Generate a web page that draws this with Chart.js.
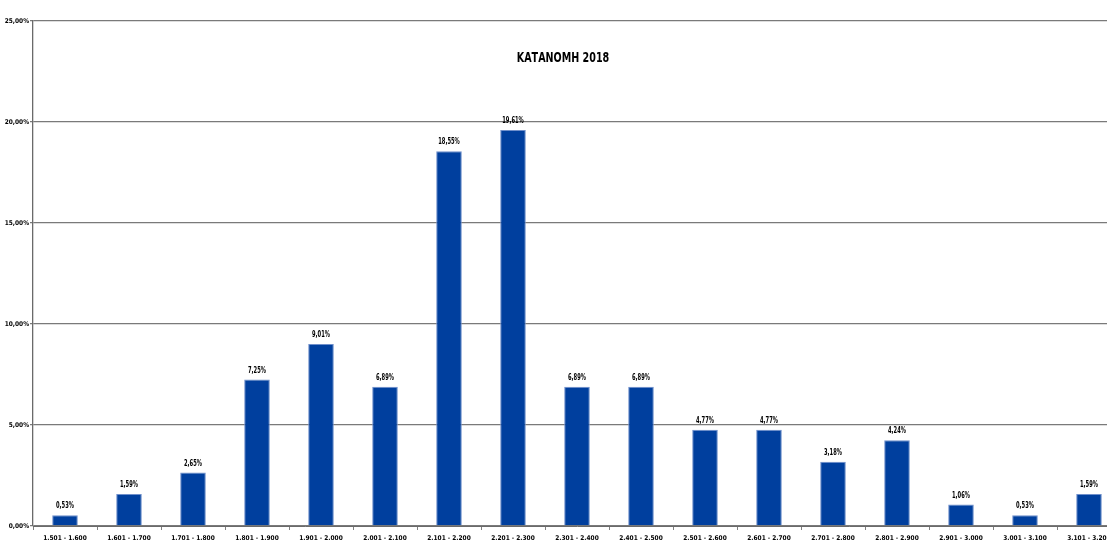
<!DOCTYPE html>
<html>
<head>
<meta charset="utf-8">
<script src="https://cdn.jsdelivr.net/npm/chart.js@4/dist/chart.umd.min.js"></script>
<style>
  html, body { margin: 0; padding: 0; background: #fff; overflow: hidden; }
  #wrap { position: absolute; left: 0; top: 0; width: 1121px; height: 543px; }
</style>
</head>
<body>
<div id="wrap"><canvas id="c"></canvas></div>
<script>
const chartTitle = 'ΚΑΤΑΝΟΜΗ 2018';
const categories = [
  '1.501 - 1.600', '1.601 - 1.700', '1.701 - 1.800', '1.801 - 1.900',
  '1.901 - 2.000', '2.001 - 2.100', '2.101 - 2.200', '2.201 - 2.300',
  '2.301 - 2.400', '2.401 - 2.500', '2.501 - 2.600', '2.601 - 2.700',
  '2.701 - 2.800', '2.801 - 2.900', '2.901 - 3.000', '3.001 - 3.100',
  '3.101 - 3.200'
];
const shares = [0.53, 1.59, 2.65, 7.25, 9.01, 6.89, 18.55, 19.61, 6.89, 6.89, 4.77, 4.77, 3.18, 4.24, 1.06, 0.53, 1.59];
const yTicks = [0, 5, 10, 15, 20, 25];

const pct = v => v.toFixed(2).replace('.', ',') + '%';
const FAMILY = "'DejaVu Sans Condensed', 'DejaVu Sans', sans-serif";
const smallFont = { family: FAMILY, size: 6.5, weight: 'bold' };

// text squeezed horizontally to mimic a narrow face
function narrowText(ctx, text, x, y, squeeze) {
  ctx.save();
  ctx.translate(x, y);
  ctx.scale(squeeze, 1);
  ctx.fillText(text, 0, 0);
  ctx.restore();
}

const valueLabels = {
  id: 'valueLabels',
  afterDatasetsDraw(chart) {
    const ctx = chart.ctx;
    const meta = chart.getDatasetMeta(0);
    ctx.save();
    ctx.font = 'bold 8px ' + FAMILY;
    ctx.fillStyle = '#000';
    ctx.textAlign = 'center';
    ctx.textBaseline = 'middle';
    meta.data.forEach((bar, i) => {
      narrowText(ctx, pct(shares[i]), bar.x, bar.y - 9, 0.72);
    });
    ctx.restore();
  }
};

const titleText = {
  id: 'titleText',
  afterDraw(chart) {
    const ctx = chart.ctx;
    ctx.save();
    ctx.font = 'bold 14px ' + FAMILY;
    ctx.fillStyle = '#000';
    ctx.textAlign = 'center';
    ctx.textBaseline = 'middle';
    narrowText(ctx, chartTitle, 563, 58, 0.76);
    ctx.restore();
  }
};

new Chart(document.getElementById('c'), {
  type: 'bar',
  data: {
    labels: categories,
    datasets: [{
      data: shares,
      backgroundColor: '#003F9E',
      borderColor: '#6F8FCB',
      borderWidth: 1,
      barPercentage: 0.4,
      categoryPercentage: 1.0
    }]
  },
  options: {
    responsive: true,
    maintainAspectRatio: false,
    animation: false,
    layout: { padding: { top: 21, right: 0, bottom: 0, left: 0 } },
    plugins: {
      legend: { display: false },
      tooltip: { enabled: false },
      title: { display: false }
    },
    scales: {
      x: {
        grid: { offset: true, drawOnChartArea: false, color: '#808080', tickLength: 4 },
        border: { color: '#6a6a6a', width: 1 },
        ticks: { color: '#000', font: smallFont, maxRotation: 0, autoSkip: false, padding: 4 },
        afterFit(s) { s.height = 17; }
      },
      y: {
        min: 0, max: 25,
        afterBuildTicks(s) { s.ticks = yTicks.map(v => ({ value: v })); },
        grid: { color: '#7a7a7a', lineWidth: 1.3, tickLength: 3 },
        border: { color: '#6a6a6a', width: 1.3 },
        ticks: { color: '#000', font: smallFont, padding: 1, callback: v => pct(v) },
        afterFit(s) { s.width = 33; }
      }
    }
  },
  plugins: [valueLabels, titleText]
});
</script>
</body>
</html>
